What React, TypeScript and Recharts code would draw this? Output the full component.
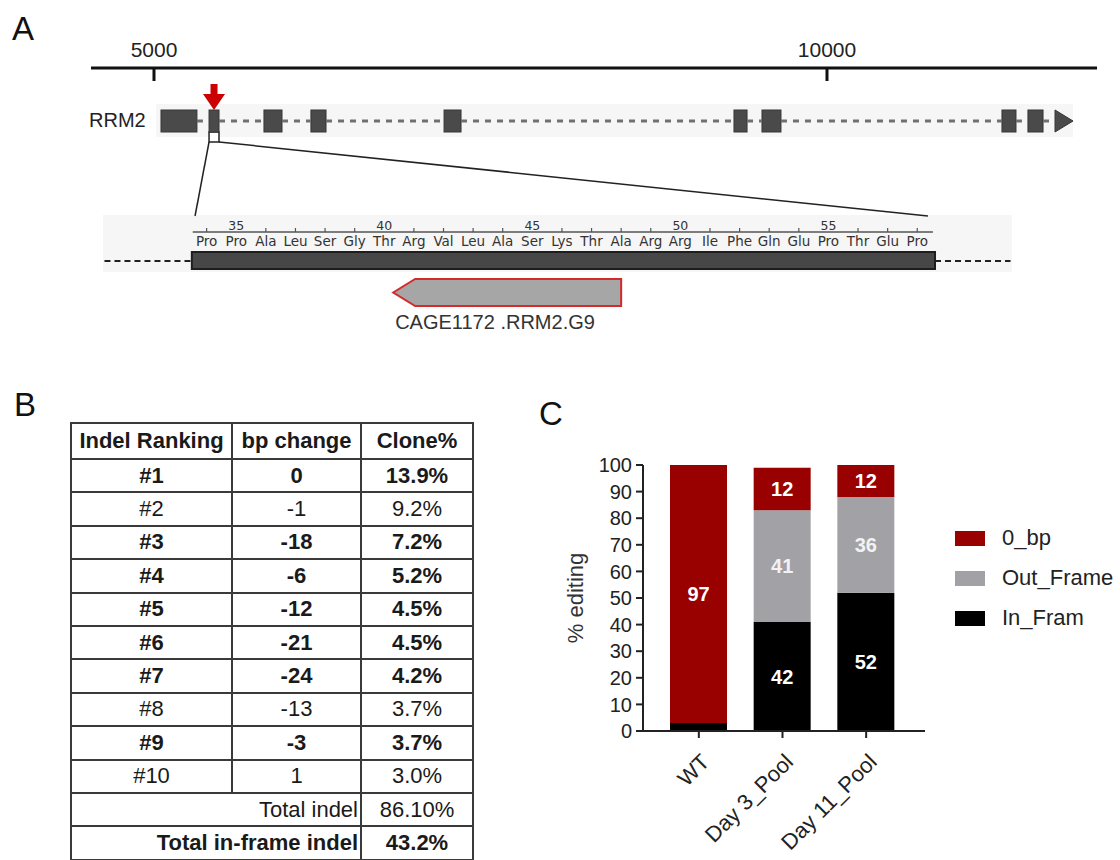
import React from 'react';
import {
  ComposedChart,
  BarChart,
  Bar,
  Scatter,
  XAxis,
  YAxis,
  ReferenceArea,
  ReferenceLine,
  ReferenceDot,
  LabelList,
} from 'recharts';

const FONT = '"Liberation Sans", Arial, sans-serif';
const SEQ_FONT = '"DejaVu Sans", Verdana, sans-serif';

// ---- panel A: RRM2 gene model (bp) ----
const genomeDomain = [4532, 12006];
const genomeTicks = [5000, 10000];
const exonStarts = [5052, 5409, 5817, 6166, 7155, 9309, 9517, 11300, 11493, 11694];
const exonEnds = [5319, 5483, 5951, 6278, 7281, 9406, 9658, 11404, 11605, 11828];
const trackSpan = [5015, 11828];
const targetExon = 1;
const zoomWindow = [5305, 10750];

// ---- panel A: zoomed exon (amino acid positions) ----
const residueNumbers = [34, 35, 36, 37, 38, 39, 40, 41, 42, 43, 44, 45, 46, 47, 48, 49, 50, 51, 52, 53, 54, 55, 56, 57, 58];
const residues = ['Pro', 'Pro', 'Ala', 'Leu', 'Ser', 'Gly', 'Thr', 'Arg', 'Val', 'Leu', 'Ala', 'Ser', 'Lys', 'Thr', 'Ala', 'Arg', 'Arg', 'Ile', 'Phe', 'Gln', 'Glu', 'Pro', 'Thr', 'Glu', 'Pro'];
const seqDomain = [30.5, 61.2];
const rulerSpan = [33.53, 58.53];
const cdsSpan = [33.5, 58.6];
const flankSpan = [30.55, 61.15];
const guideSpan = [40.3, 48.0];
const guideName = 'CAGE1172 .RRM2.G9';

// ---- panel B: indel table ----
const rankings = ['#1', '#2', '#3', '#4', '#5', '#6', '#7', '#8', '#9', '#10'];
const bpChanges = ['0', '-1', '-18', '-6', '-12', '-21', '-24', '-13', '-3', '1'];
const clonePct = ['13.9%', '9.2%', '7.2%', '5.2%', '4.5%', '4.5%', '4.2%', '3.7%', '3.7%', '3.0%'];
const boldRows = [true, false, true, true, true, true, true, false, true, false];
const totalIndel = '86.10%';
const totalInFrame = '43.2%';

// ---- panel C: % editing ----
const samples = ['WT', 'Day 3_Pool', 'Day 11_Pool'];
const inFrame = [3, 41, 52];
const outFrame = [0, 42, 36];
const zeroBp = [97, 16, 12];
const inFrameLabels = ['', '42', '52'];
const outFrameLabels = ['', '41', '36'];
const zeroBpLabels = ['97', '12', '12'];
const yTicks = [0, 10, 20, 30, 40, 50, 60, 70, 80, 90, 100];
const seriesNames = ['In_Fram', 'Out_Frame', '0_bp'];
const seriesColors = ['#000000', '#a2a2a6', '#990000'];

const editData = samples.map((name, i) => ({
  name,
  inFrame: inFrame[i],
  outFrame: outFrame[i],
  zeroBp: zeroBp[i],
  inLabel: inFrameLabels[i],
  outLabel: outFrameLabels[i],
  zeroLabel: zeroBpLabels[i],
}));

// anchor points so the number axes get a scale
const exonData = exonStarts.map((s, i) => ({ pos: (s + exonEnds[i]) / 2, v: 97 }));
const residueData = residueNumbers.map((n) => ({ pos: n, v: 108 }));

const NoShape = () => <g />;

const GenomeTick = (props: any) => {
  const { x, y, payload } = props;
  return (
    <g>
      <line x1={x} x2={x} y1={y} y2={y + 13} stroke="#111" strokeWidth={3} />
      <text x={x} y={y - 11} textAnchor="middle" fontSize={21} fill="#222" fontFamily={FONT}>
        {payload.value}
      </text>
    </g>
  );
};

const ResidueTick = (props: any) => {
  const { x, y, payload } = props;
  const n = payload.value;
  const name = residues[residueNumbers.indexOf(n)];
  return (
    <g fontFamily={SEQ_FONT} fill="#333">
      {n % 5 === 0 ? (
        <text x={x} y={y - 2} textAnchor="middle" fontSize={12.5}>{n}</text>
      ) : (
        <line x1={x} x2={x} y1={y - 4} y2={y} stroke="#555" strokeWidth={1.2} />
      )}
      <text x={x} y={y + 14} textAnchor="middle" fontSize={13.5}>{name}</text>
    </g>
  );
};

const RedArrow = ({ cx, cy }: any) => (
  <path
    d={`M${cx},${cy} L${cx - 11},${cy - 16} L${cx - 3.5},${cy - 16} L${cx - 3.5},${cy - 26} L${cx + 3.5},${cy - 26} L${cx + 3.5},${cy - 16} L${cx + 11},${cy - 16} Z`}
    fill="#cc0000"
  />
);

const ExonBox = ({ x, y, width, height }: any) => (
  <rect x={x} y={y} width={width} height={height} fill="#4a4a4a" stroke="#363636" strokeWidth={1} />
);

const LastExon = ({ x, y, width, height }: any) => (
  <path d={`M${x},${y} L${x + width},${y + height / 2} L${x},${y + height} Z`} fill="#4a4a4a" stroke="#363636" />
);

const GuideShape = ({ x, y, width, height }: any) => (
  <g>
    <path
      d={`M${x},${y + height / 2} L${x + 22},${y} L${x + width},${y} L${x + width},${y + height} L${x + 22},${y + height} Z`}
      fill="#a6a6a6"
      stroke="#d42a2a"
      strokeWidth={2}
    />
    <text x={x + 2} y={y + height + 23} fontSize={20} fill="#333" fontFamily={FONT}>{guideName}</text>
  </g>
);

const SampleTick = ({ x, y, payload }: any) => (
  <g transform={`translate(${x},${y}) rotate(-45)`}>
    <text x={-8} y={0} dy={25} textAnchor="end" fontSize={22} fill="#222" fontFamily={FONT}>
      {payload.value}
    </text>
  </g>
);

const letter = (t: string, left: number, top: number) => (
  <div style={{ position: 'absolute', left, top, fontSize: 33, lineHeight: '33px', color: '#111' }}>{t}</div>
);

const cell: React.CSSProperties = {
  border: '2px solid #3a3a3a',
  padding: 0,
  textAlign: 'center',
  verticalAlign: 'middle',
  color: '#1a1a1a',
};

export default function App() {
  const last = exonStarts.length - 1;
  return (
    <div
      style={{
        position: 'absolute',
        left: 0,
        top: 0,
        width: 1120,
        height: 860,
        background: '#fff',
        overflow: 'hidden',
        fontFamily: FONT,
      }}
    >
      {letter('A', 12, 12)}
      {letter('B', 14, 388)}
      {letter('C', 539, 397)}

      <div style={{ position: 'absolute', left: 89, top: 109, fontSize: 20, color: '#222' }}>RRM2</div>

      {/* zoomed sequence box background */}
      <div style={{ position: 'absolute', left: 103, top: 215, width: 909, height: 57, background: '#f6f6f6' }} />

      <div style={{ position: 'absolute', left: 0, top: 0 }}>
        <ComposedChart width={1120} height={340} data={residueData} margin={{ top: 202, right: 108, left: 103, bottom: 0 }}>
          <XAxis
            dataKey="pos"
            type="number"
            orientation="top"
            domain={seqDomain}
            ticks={residueNumbers}
            interval={0}
            height={30}
            axisLine={false}
            tickLine={false}
            tickSize={0}
            tickMargin={0}
            tick={<ResidueTick />}
            allowDataOverflow
          />
          <YAxis hide type="number" dataKey="v" domain={[0, 108]} allowDataOverflow />
          <Scatter dataKey="v" shape={NoShape} isAnimationActive={false} />
          <ReferenceLine
            segment={[{ x: rulerSpan[0], y: 108 }, { x: rulerSpan[1], y: 108 }]}
            stroke="#555"
            strokeWidth={1.5}
            ifOverflow="visible"
          />
          <ReferenceLine
            segment={[{ x: flankSpan[0], y: 79 }, { x: cdsSpan[0], y: 79 }]}
            stroke="#222"
            strokeWidth={2}
            strokeDasharray="6 4"
          />
          <ReferenceLine
            segment={[{ x: cdsSpan[1], y: 79 }, { x: flankSpan[1], y: 79 }]}
            stroke="#222"
            strokeWidth={2}
            strokeDasharray="6 4"
          />
          <ReferenceArea x1={cdsSpan[0]} x2={cdsSpan[1]} y1={71} y2={88} fill="#474747" fillOpacity={1} stroke="#1e1e1e" strokeWidth={2} />
          <ReferenceArea x1={guideSpan[0]} x2={guideSpan[1]} y1={34} y2={61} shape={GuideShape} />
        </ComposedChart>
      </div>

      <div style={{ position: 'absolute', left: 0, top: 0 }}>
        <ComposedChart width={1120} height={218} data={exonData} margin={{ top: 38, right: 23, left: 91, bottom: 0 }}>
          <XAxis
            dataKey="pos"
            type="number"
            orientation="top"
            domain={genomeDomain}
            ticks={genomeTicks}
            height={30}
            axisLine={{ stroke: '#111', strokeWidth: 3 }}
            tickLine={false}
            tickSize={0}
            tickMargin={0}
            tick={<GenomeTick />}
            allowDataOverflow
          />
          <YAxis hide type="number" dataKey="v" domain={[0, 150]} allowDataOverflow />
          <Scatter dataKey="v" shape={NoShape} isAnimationActive={false} />
          <ReferenceArea x1={trackSpan[0]} x2={trackSpan[1]} y1={81} y2={114} fill="#f6f6f6" fillOpacity={1} />
          {/* introns: dashed segments between exons */}
          {exonEnds.slice(0, last).map((e, i) => (
            <ReferenceLine
              key={`intron-${i}`}
              segment={[{ x: e, y: 97 }, { x: exonStarts[i + 1], y: 97 }]}
              stroke="#707070"
              strokeWidth={3}
              strokeDasharray="6 6"
            />
          ))}
          <ReferenceArea
            x1={exonStarts[targetExon]}
            x2={exonEnds[targetExon]}
            y1={76}
            y2={86}
            fill="#fff"
            fillOpacity={1}
            stroke="#222"
            strokeWidth={1.5}
          />
          <ReferenceLine
            segment={[{ x: exonStarts[targetExon], y: 76 }, { x: zoomWindow[0], y: 2 }]}
            stroke="#222"
            strokeWidth={1.5}
          />
          <ReferenceLine
            segment={[{ x: exonEnds[targetExon], y: 76 }, { x: zoomWindow[1], y: 2 }]}
            stroke="#222"
            strokeWidth={1.5}
          />
          {exonStarts.map((s, i) => (
            <ReferenceArea
              key={i}
              x1={s}
              x2={exonEnds[i]}
              y1={86}
              y2={108}
              shape={i === last ? LastExon : ExonBox}
            />
          ))}
          <ReferenceDot
            x={(exonStarts[targetExon] + exonEnds[targetExon]) / 2}
            y={108}
            shape={RedArrow}
          />
        </ComposedChart>
      </div>

      {/* panel B */}
      <table
        style={{
          position: 'absolute',
          left: 70,
          top: 422,
          width: 402,
          borderCollapse: 'collapse',
          fontSize: 22,
          tableLayout: 'fixed',
        }}
      >
        <colgroup>
          <col style={{ width: 161 }} />
          <col style={{ width: 129 }} />
          <col style={{ width: 112 }} />
        </colgroup>
        <tbody>
          <tr style={{ height: 36, fontWeight: 'bold' }}>
            <td style={cell}>Indel Ranking</td>
            <td style={cell}>bp change</td>
            <td style={cell}>Clone%</td>
          </tr>
          {rankings.map((r, i) => (
            <tr key={r} style={{ height: 33.4, fontWeight: boldRows[i] ? 'bold' : 'normal' }}>
              <td style={cell}>{r}</td>
              <td style={cell}>{bpChanges[i]}</td>
              <td style={cell}>{clonePct[i]}</td>
            </tr>
          ))}
          <tr style={{ height: 33.4 }}>
            <td colSpan={2} style={{ ...cell, textAlign: 'right', paddingRight: 2 }}>Total indel</td>
            <td style={cell}>{totalIndel}</td>
          </tr>
          <tr style={{ height: 33.4, fontWeight: 'bold' }}>
            <td colSpan={2} style={{ ...cell, textAlign: 'right', paddingRight: 2 }}>Total in-frame indel</td>
            <td style={cell}>{totalInFrame}</td>
          </tr>
        </tbody>
      </table>

      {/* panel C */}
      <div style={{ position: 'absolute', left: 540, top: 430 }}>
        <BarChart
          width={580}
          height={430}
          data={editData}
          margin={{ top: 35, right: 195, left: 30, bottom: 29 }}
          barSize={57}
        >
          <XAxis
            dataKey="name"
            height={100}
            interval={0}
            tickSize={7}
            padding={{ left: 14, right: 17 }}
            axisLine={{ stroke: '#222', strokeWidth: 2 }}
            tickLine={{ stroke: '#222', strokeWidth: 2 }}
            tick={<SampleTick />}
          />
          <YAxis
            type="number"
            domain={[0, 100]}
            ticks={yTicks}
            interval={0}
            width={73}
            tickSize={7}
            tickMargin={4}
            axisLine={{ stroke: '#222', strokeWidth: 2 }}
            tickLine={{ stroke: '#222', strokeWidth: 2 }}
            tick={{ fontSize: 20, fill: '#222' }}
            label={{
              value: '% editing',
              angle: -90,
              position: 'insideLeft',
              style: { textAnchor: 'middle', fontSize: 22, fill: '#333' },
            }}
          />
          <Bar dataKey="inFrame" stackId="a" fill={seriesColors[0]} name={seriesNames[0]} isAnimationActive={false}>
            <LabelList dataKey="inLabel" position="center" fill="#fff" fontSize={20} fontWeight="bold" />
          </Bar>
          <Bar dataKey="outFrame" stackId="a" fill={seriesColors[1]} name={seriesNames[1]} isAnimationActive={false}>
            <LabelList dataKey="outLabel" position="center" fill="#f2f2f2" fontSize={20} fontWeight="bold" />
          </Bar>
          <Bar dataKey="zeroBp" stackId="a" fill={seriesColors[2]} name={seriesNames[2]} isAnimationActive={false}>
            <LabelList dataKey="zeroLabel" position="center" fill="#fff" fontSize={20} fontWeight="bold" />
          </Bar>
        </BarChart>
      </div>

      {/* legend for panel C */}
      <div style={{ position: 'absolute', left: 955, top: 518 }}>
        {[2, 1, 0].map((i) => (
          <div key={i} style={{ display: 'flex', alignItems: 'center', height: 40 }}>
            <div style={{ width: 30, height: 15, background: seriesColors[i], marginRight: 17 }} />
            <span style={{ fontSize: 22, color: '#222' }}>{seriesNames[i]}</span>
          </div>
        ))}
      </div>
    </div>
  );
}
